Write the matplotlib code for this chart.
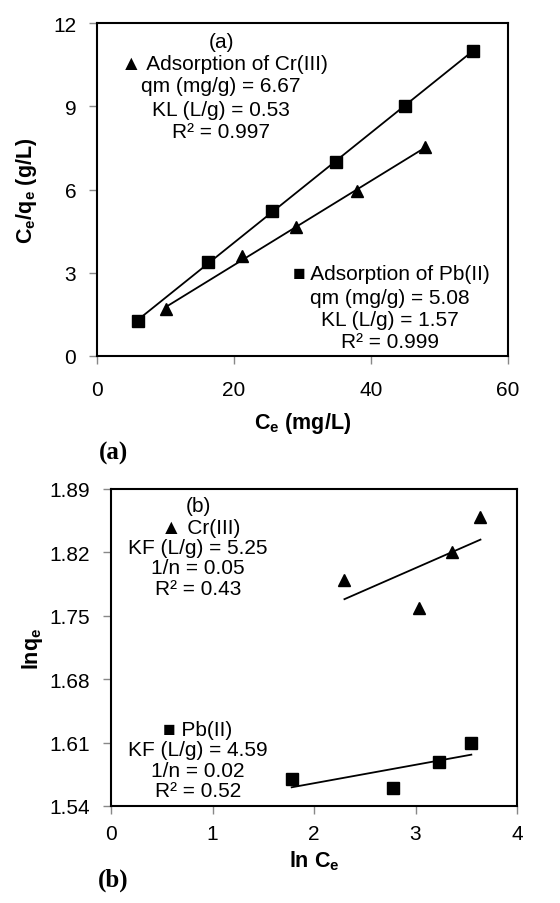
import numpy as np
import matplotlib
matplotlib.use("Agg")
import matplotlib.pyplot as plt

plt.rcParams['font.family'] = ['Liberation Sans', 'DejaVu Sans']
plt.rcParams['mathtext.fontset'] = 'custom'
plt.rcParams['mathtext.rm'] = 'Liberation Sans'
plt.rcParams['mathtext.bf'] = 'Liberation Sans:bold'

# (a) Langmuir: Ce vs Ce/qe
pb_ce = [6, 16.2, 25.5, 34.9, 44.9, 54.9]
pb_ratio = [1.25, 3.39, 5.22, 7.0, 9.0, 11.0]
cr_ce = [10.1, 21.1, 29.0, 38.0, 47.9]
cr_ratio = [1.68, 3.6, 4.65, 5.93, 7.52]

# (b) Freundlich: ln Ce vs ln qe
cr_lnce = [2.30, 3.03, 3.36, 3.64]
cr_lnqe = [1.789, 1.759, 1.820, 1.859]
pb_lnce = [1.78, 2.78, 3.23, 3.55]
pb_lnqe = [1.570, 1.560, 1.589, 1.6095]

a_xticks = [0, 20, 40, 60]
a_yticks = [0, 3, 6, 9, 12]
b_xticks = [0, 1, 2, 3, 4]
b_yticks = [1.54, 1.61, 1.68, 1.75, 1.82, 1.89]

W, H = 560, 904
fig = plt.figure(figsize=(W / 100, H / 100), dpi=100)


def px_axes(l, t, r, b):
    return fig.add_axes([l / W, 1 - b / H, (r - l) / W, (b - t) / H])


def style(ax, pad):
    for s in ax.spines.values():
        s.set_linewidth(1.5)
        s.set_color('black')
    ax.tick_params(direction='out', length=6, width=1, color='#888888',
                   labelsize=15)
    ax.tick_params(axis='x', pad=pad)
    ax.tick_params(axis='y', pad=9)


def fit_line(ax, x, y):
    k, c = np.polyfit(x, y, 1)
    xs = np.array([min(x), max(x)])
    ax.plot(xs, k * xs + c, color='black', lw=1.3, zorder=2)


def put(x, y, s, size=15, **kw):
    fig.text(x / W, 1 - y / H, s, ha='center', va='center', fontsize=size, **kw)


# ---- panel (a)
ax1 = px_axes(97, 24, 508, 357)
fit_line(ax1, pb_ce, pb_ratio)
fit_line(ax1, cr_ce, cr_ratio)
ax1.plot(pb_ce, pb_ratio, 's', color='black', ms=8, zorder=3)
ax1.plot(cr_ce, cr_ratio, '^', color='black', ms=9, zorder=3)
ax1.set_xlim(0, 60)
ax1.set_ylim(0, 12)
ax1.set_xticks(a_xticks)
ax1.set_yticks(a_yticks)
style(ax1, 11)
ax1.set_xlabel('C$_\\mathbf{e}$ (mg/L)', fontweight='bold', fontsize=15.5, labelpad=8)
ax1.set_ylabel('C$_\\mathbf{e}$/q$_\\mathbf{e}$ (g/L)', fontweight='bold', fontsize=15.5, labelpad=10)

put(221, 42, '(a)')
put(224, 65, '\u25B2 Adsorption of Cr(III)')
put(221, 87, 'qm (mg/g) = 6.67')
put(221, 110, 'KL (L/g) = 0.53')
put(221, 132, 'R\u00b2 = 0.997')

put(391, 275, '\u25A0 Adsorption of Pb(II)')
put(390, 298, 'qm (mg/g) = 5.08')
put(390, 320, 'KL (L/g) = 1.57')
put(390, 343, 'R\u00b2 = 0.999')

put(113, 453, '(a)', size=18, fontweight='bold', family='Liberation Serif')

# ---- panel (b)
ax2 = px_axes(111, 490, 517, 807)
fit_line(ax2, cr_lnce, cr_lnqe)
fit_line(ax2, pb_lnce, pb_lnqe)
ax2.plot(pb_lnce, pb_lnqe, 's', color='black', ms=8, zorder=3)
ax2.plot(cr_lnce, cr_lnqe, '^', color='black', ms=9, zorder=3)
ax2.set_xlim(0, 4)
ax2.set_ylim(1.54, 1.89)
ax2.set_xticks(b_xticks)
ax2.set_yticks(b_yticks)
ax2.set_yticklabels([f'{v:.2f}' for v in b_yticks])
style(ax2, 7)
ax2.set_xlabel('ln C$_\\mathbf{e}$', fontweight='bold', fontsize=15.5, labelpad=4)
ax2.set_ylabel('lnq$_\\mathbf{e}$', fontweight='bold', fontsize=15.5, labelpad=3)

put(198, 507, '(b)')
put(201, 528, '\u25B2 Cr(III)')
put(198, 548, 'KF (L/g) = 5.25')
put(198, 569, '1/n = 0.05')
put(198, 590, 'R\u00b2 = 0.43')

put(198, 731, '\u25A0 Pb(II)')
put(198, 751, 'KF (L/g) = 4.59')
put(198, 772, '1/n = 0.02')
put(198, 792, 'R\u00b2 = 0.52')

put(113, 880, '(b)', size=18, fontweight='bold', family='Liberation Serif')

fig.savefig('out.png', dpi=100)
